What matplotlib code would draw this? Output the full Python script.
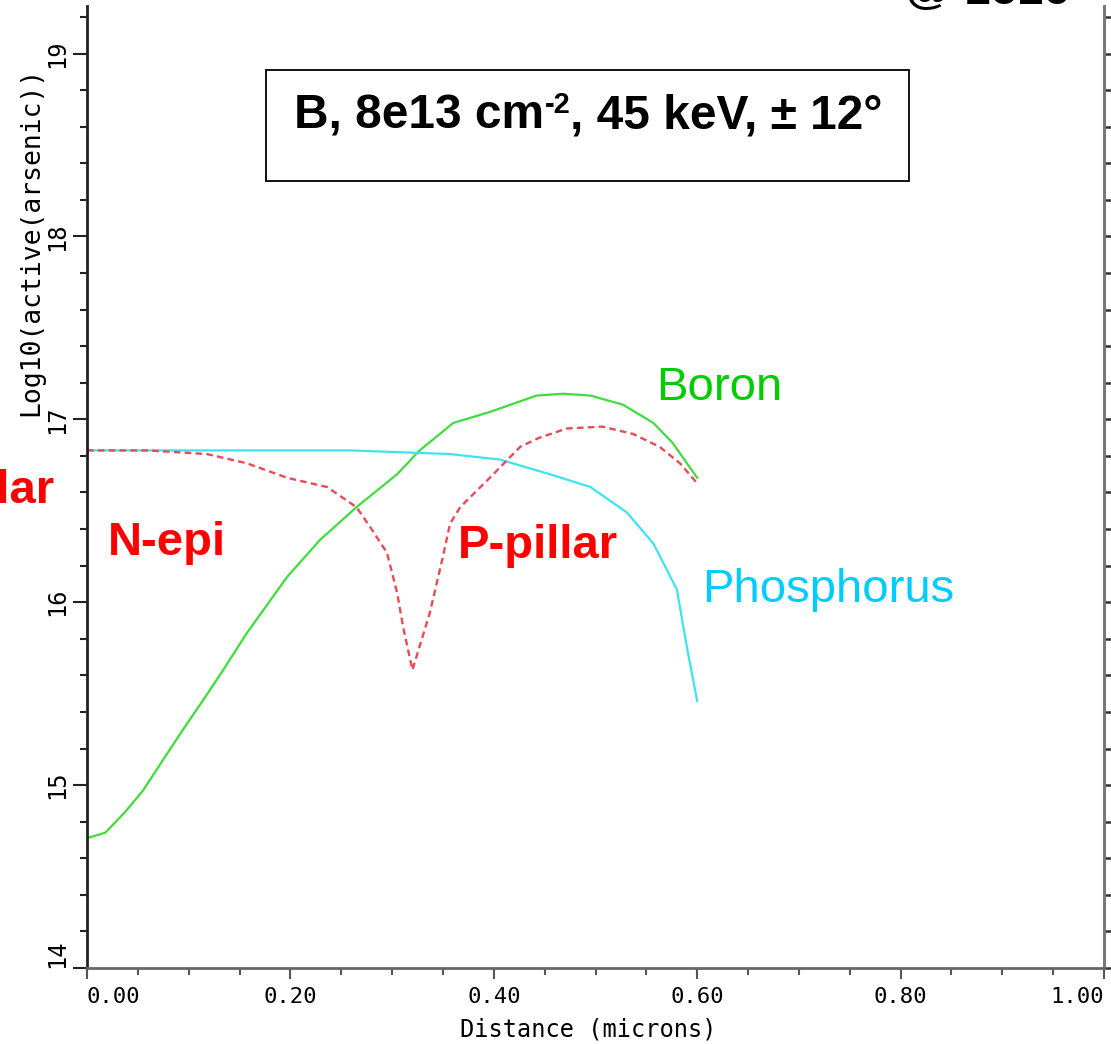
import matplotlib
matplotlib.use("Agg")
import matplotlib.pyplot as plt
from matplotlib.patches import Rectangle
from matplotlib.ticker import MultipleLocator

# depth profiles, log10 of active concentration vs distance (microns)
boron_x = [0.000, 0.018, 0.037, 0.055, 0.075, 0.094, 0.116, 0.134, 0.157, 0.197,
           0.229, 0.265, 0.305, 0.327, 0.347, 0.360, 0.396, 0.442, 0.468, 0.495,
           0.527, 0.557, 0.576, 0.600]
boron_y = [14.71, 14.74, 14.85, 14.97, 15.14, 15.30, 15.48, 15.63, 15.83, 16.14,
           16.34, 16.52, 16.70, 16.83, 16.92, 16.98, 17.04, 17.13, 17.14, 17.13,
           17.08, 16.98, 16.87, 16.68]

net_x = [0.000, 0.060, 0.118, 0.157, 0.197, 0.236, 0.265, 0.281, 0.295, 0.305,
         0.311, 0.320, 0.337, 0.350, 0.357, 0.367, 0.396, 0.426, 0.445, 0.472,
         0.507, 0.537, 0.563, 0.583, 0.600]
net_y = [16.83, 16.83, 16.81, 16.76, 16.68, 16.63, 16.52, 16.39, 16.27, 16.05,
         15.86, 15.63, 15.94, 16.25, 16.43, 16.52, 16.68, 16.85, 16.90, 16.95,
         16.96, 16.92, 16.85, 16.76, 16.65]

phos_x = [0.000, 0.259, 0.357, 0.406, 0.455, 0.495, 0.531, 0.557, 0.580, 0.590, 0.600]
phos_y = [16.83, 16.83, 16.81, 16.78, 16.70, 16.63, 16.49, 16.32, 16.07, 15.75, 15.46]

x_ticks = [0.0, 0.2, 0.4, 0.6, 0.8, 1.0]
x_tick_labels = ['0.00', '0.20', '0.40', '0.60', '0.80', '1.00']
y_ticks = [14, 15, 16, 17, 18, 19]

mono = 'DejaVu Sans Mono'
sans = 'Liberation Sans'
W, H = 1111, 1044

fig = plt.figure(figsize=(W / 100, H / 100), dpi=100)
ax = fig.add_axes([87 / W, 76 / H, 1017 / W, 962 / H])

ax.plot(boron_x, boron_y, color='#3fdc3f', lw=1.6)
ax.plot(phos_x, phos_y, color='#3fe3f0', lw=1.6)
ax.plot(net_x, net_y, color='#ea4a55', lw=1.7, ls=(0, (2.8, 1.8)))

ax.set_xlim(0, 1.0)
ax.set_ylim(14, 19.26)

ax.set_xticks(x_ticks)
ax.set_xticklabels(x_tick_labels, fontfamily=mono, fontsize=16)
ax.xaxis.set_minor_locator(MultipleLocator(0.05))
ax.set_yticks(y_ticks)
ax.set_yticklabels([str(v) for v in y_ticks], fontfamily=mono, fontsize=17,
                   rotation=90, va='center')
ax.yaxis.set_minor_locator(MultipleLocator(0.2))

ax.tick_params(axis='x', which='major', direction='out', length=8, width=1.5,
               color='#555555', pad=6)
ax.tick_params(axis='x', which='minor', direction='out', length=5, width=1.5,
               color='#555555')
ax.tick_params(axis='y', which='major', direction='out', length=10, width=1.5,
               color='#222222', pad=3)
ax.tick_params(axis='y', which='minor', direction='out', length=5, width=1.5,
               color='#222222')

# end labels pulled inside the frame
xt = ax.xaxis.get_major_ticks()
xt[0].label1.set_horizontalalignment('left')
xt[-1].label1.set_horizontalalignment('right')
ax.yaxis.get_major_ticks()[0].label1.set_verticalalignment('bottom')

ax.spines['top'].set_visible(False)
ax.spines['left'].set_color('#222222')
ax.spines['left'].set_linewidth(2)
ax.spines['bottom'].set_color('#666666')
ax.spines['bottom'].set_linewidth(2)
ax.spines['right'].set_color('#777777')
ax.spines['right'].set_linewidth(2)

# right frame carries its own short ticks
sec = ax.secondary_yaxis('right')
sec.yaxis.set_major_locator(MultipleLocator(0.2))
sec.tick_params(direction='out', length=6, width=1.8, color='#333333', labelright=False)
sec.spines['right'].set_color('#777777')
sec.spines['right'].set_linewidth(2)

fig.text(31 / W, 1 - 241 / H, 'Log10(active(arsenic))', rotation=90,
         ha='center', va='center', fontfamily=mono, fontsize=19)
fig.text(588 / W, 1 - 1030 / H, 'Distance (microns)', ha='center',
         va='center', fontfamily=mono, fontsize=17)

# implant condition box
ax.add_patch(Rectangle((0.176, 0.818), 0.632, 0.115, transform=ax.transAxes,
                       fill=False, ec='black', lw=1.3, clip_on=False))

# box title laid out piece by piece so the superscript stays a small hyphen
renderer = fig.canvas.get_renderer()
pieces = [('B, 8e13 cm', 34.5, 0), ('-2', 21, 15), (', 45 keV, \u00b1 12\u00b0', 34.5, 0)]
base_px = 128
items = []
for s, size, rise in pieces:
    t = fig.text(0, 1 - (base_px - rise) / H, s, fontsize=size, fontweight='bold',
                 fontfamily=sans, va='baseline', ha='left')
    items.append(t)
widths = [t.get_window_extent(renderer).width for t in items]
x_px = 588.5 - sum(widths) / 2
for t, w in zip(items, widths):
    t.set_x(x_px / W)
    x_px += w

ax.text(0.0206, 16.257, 'N-epi', color='#ff0000', fontsize=34, fontweight='bold',
        fontfamily=sans, va='baseline')
ax.text(0.365, 16.24, 'P-pillar', color='#ff0000', fontsize=34, fontweight='bold',
        fontfamily=sans, va='baseline')
ax.text(-0.0315, 16.541, 'P-pillar', color='#ff0000', fontsize=34, fontweight='bold',
        fontfamily=sans, va='baseline', ha='right')
ax.text(0.560, 17.104, 'Boron', color='#00cc00', fontsize=34, fontfamily=sans,
        va='baseline')
ax.text(0.605, 16.0, 'Phosphorus', color='#00ccff', fontsize=34, fontfamily=sans,
        va='baseline')

fig.text(905 / W, 1 - 4 / H, '@ 1e16', fontsize=34, fontweight='bold',
         fontfamily=sans, va='baseline')

fig.savefig('out.png', dpi=100)
